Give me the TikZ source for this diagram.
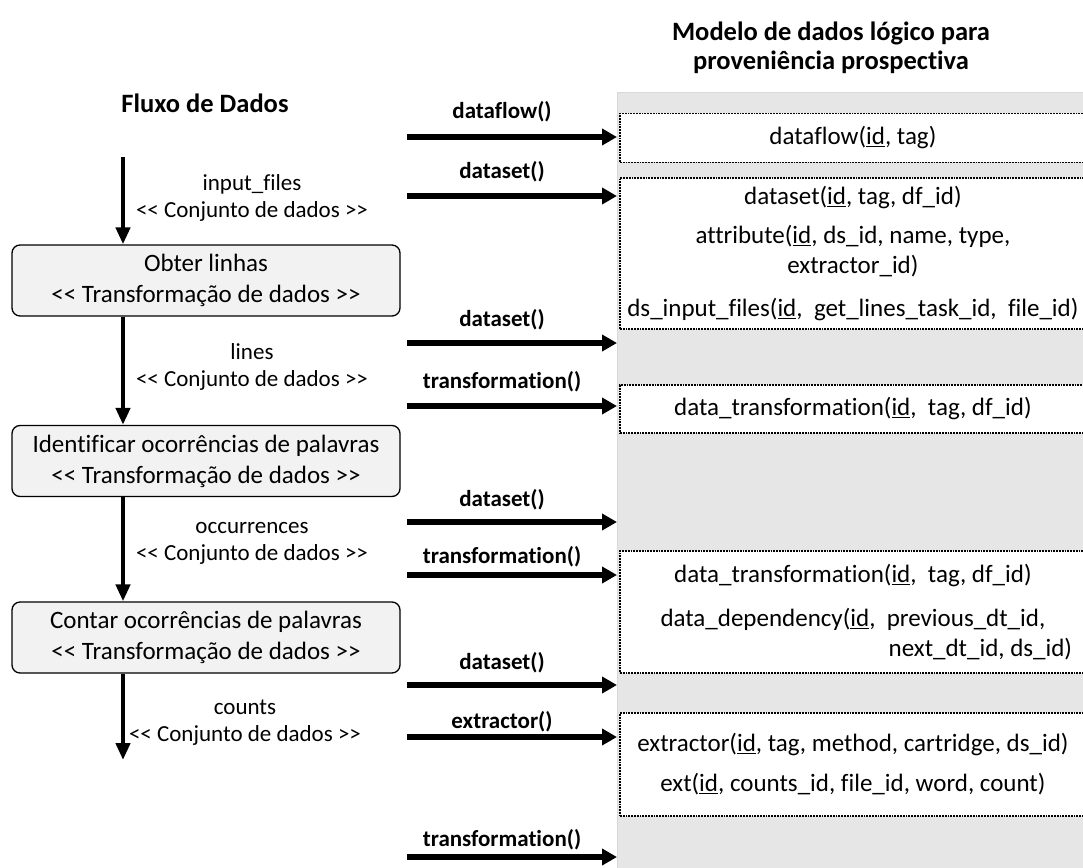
\documentclass[tikz,border=0pt]{standalone}
\usepackage{fontspec}
\setmainfont{Carlito}[Ligatures=NoCommon]
\usetikzlibrary{arrows.meta}
\definecolor{panelgray}{HTML}{E7E6E6}
\definecolor{taskgray}{HTML}{F2F2F2}
\newcommand{\stereo}[1]{<{}< #1 >{}>}
\begin{document}
\begin{tikzpicture}[x=100pt,y=-100pt,
  vflow/.style={line width=4.3pt,-{Triangle[length=17pt,width=14pt]}},
  hflow/.style={line width=5.5pt,-{Triangle[length=15pt,width=16pt]}},
  taskbox/.style={draw=black,line width=1.3pt,fill=taskgray,rounded corners=8pt,
    minimum width=388pt,minimum height=71pt,inner sep=0pt,align=center,
    font=\fontsize{25}{31}\selectfont},
  relbox/.style={draw=black,densely dotted,line width=1.8pt,fill=white,anchor=north west,
    minimum width=466pt,inner sep=0pt,align=center,font=\fontsize{25}{30}\selectfont},
  oplabel/.style={font=\fontsize{23}{27}\selectfont\bfseries},
  dslabel/.style={align=center,font=\fontsize{23}{27}\selectfont},
  heading/.style={align=center,font=\fontsize{26.5}{29}\selectfont\bfseries}]
\useasboundingbox (0,0) rectangle (10.83,8.67);
% titles
\node[heading] (flowtitle) at (2.05,1.03) {Fluxo de Dados};
\node[heading] (modeltitle) at (8.31,0.475) {Modelo de dados lógico para\\proveniência prospectiva};
% logical model panel
\node[draw=gray!30,line width=1pt,fill=panelgray,anchor=north west,minimum width=480pt,minimum height=790pt] (panel) at (6.17,0.92) {};
\node[relbox,minimum height=49pt] (rdf) at (6.19,1.125) {dataflow(\underline{id}, tag)};
\node[relbox,minimum height=151pt] (rds) at (6.19,1.77) {dataset(\underline{id}, tag, df\_id)\\[9pt]
  attribute(\underline{id}, ds\_id, name, type,\\ extractor\_id)\\[13pt]
  ds\_input\_files(\underline{id},~ get\_lines\_task\_id,~ file\_id)};
\node[relbox,minimum height=48pt] (rdt) at (6.19,3.84) {data\_transformation(\underline{id},~ tag, df\_id)};
\node[relbox,minimum height=122pt] (rdd) at (6.19,5.50) {data\_transformation(\underline{id},~ tag, df\_id)\\[14pt]
  data\_dependency(\underline{id},~ previous\_dt\_id,\\
  \hspace*{255pt}next\_dt\_id, ds\_id)};
\node[relbox,minimum height=103pt] (rex) at (6.19,7.12) {extractor(\underline{id}, tag, method, cartridge, ds\_id)\\[10pt]
  ext(\underline{id}, counts\_id, file\_id, word, count)};
% data flow
\node[taskbox] (b1) at (2.06,2.805) {Obter linhas\\\stereo{Transformação de dados}};
\node[taskbox] (b2) at (2.06,4.61) {Identificar ocorrências de palavras\\\stereo{Transformação de dados}};
\node[taskbox] (b3) at (2.06,6.375) {Contar ocorrências de palavras\\\stereo{Transformação de dados}};
\coordinate (in) at (1.23,1.57);
\coordinate (out) at (1.23,7.60);
\draw[vflow] (in) -- (in |- b1.north);
\draw[vflow] (in |- b1.south) -- (in |- b2.north);
\draw[vflow] (in |- b2.south) -- (in |- b3.north);
\draw[vflow] (in |- b3.south) -- (out);
\node[dslabel] (ds1) at (2.52,1.98) {input\_files\\\stereo{Conjunto de dados}};
\node[dslabel] (ds2) at (2.52,3.665) {lines\\\stereo{Conjunto de dados}};
\node[dslabel] (ds3) at (2.52,5.435) {occurrences\\\stereo{Conjunto de dados}};
\node[dslabel] (ds4) at (2.45,7.225) {counts\\\stereo{Conjunto de dados}};
% calls into the model
\coordinate (c1) at (4.07,1.37);
\coordinate (c2) at (4.07,1.96);
\coordinate (c3) at (4.07,3.43);
\coordinate (c4) at (4.07,4.06);
\coordinate (c5) at (4.07,5.22);
\coordinate (c6) at (4.07,5.75);
\coordinate (c7) at (4.07,6.85);
\coordinate (c8) at (4.07,7.37);
\coordinate (c9) at (4.07,8.57);
\draw[hflow] (c1) -- (c1 -| panel.west);
\draw[hflow] (c2) -- (c2 -| panel.west);
\draw[hflow] (c3) -- (c3 -| panel.west);
\draw[hflow] (c4) -- (c4 -| panel.west);
\draw[hflow] (c5) -- (c5 -| panel.west);
\draw[hflow] (c6) -- (c6 -| panel.west);
\draw[hflow] (c7) -- (c7 -| panel.west);
\draw[hflow] (c8) -- (c8 -| panel.west);
\draw[hflow] (c9) -- (c9 -| panel.west);
\node[oplabel] (op1) at (5.02,1.12) {dataflow()};
\node[oplabel] (op2) at (5.02,1.72) {dataset()};
\node[oplabel] (op3) at (5.02,3.20) {dataset()};
\node[oplabel] (op4) at (5.02,3.82) {transformation()};
\node[oplabel] (op5) at (5.02,5.00) {dataset()};
\node[oplabel] (op6) at (5.02,5.57) {transformation()};
\node[oplabel] (op7) at (5.02,6.63) {dataset()};
\node[oplabel] (op8) at (5.02,7.22) {extractor()};
\node[oplabel] (op9) at (5.02,8.40) {transformation()};
\end{tikzpicture}
\end{document}
